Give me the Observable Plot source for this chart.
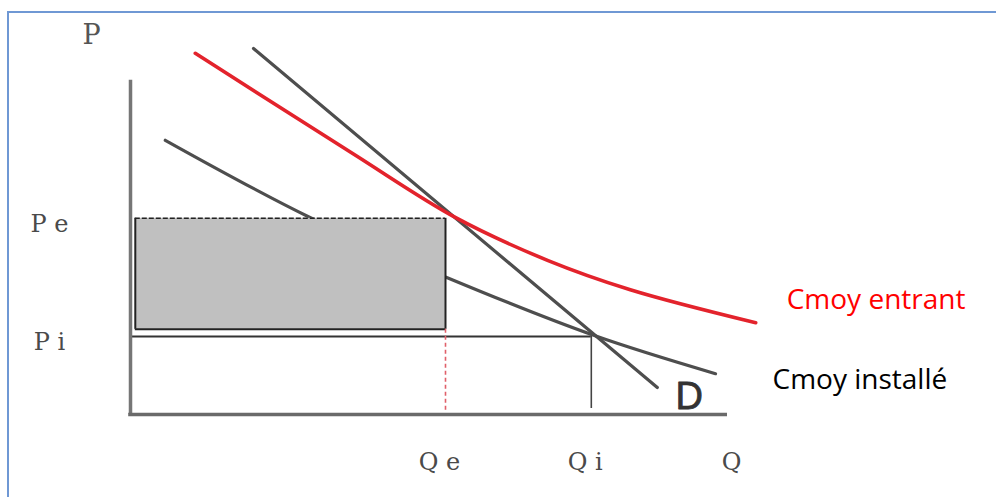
<!DOCTYPE html>
<html>
<head>
<meta charset="utf-8">
<script src="https://cdn.jsdelivr.net/npm/d3@7"></script>
<script src="https://cdn.jsdelivr.net/npm/@observablehq/plot@0.6"></script>
<style>
  html, body { margin: 0; padding: 0; background: #fff; }
  #wrap { position: relative; width: 996px; height: 497px; overflow: hidden; }
  #border { position: absolute; left: 7px; top: 11px; width: 1000px; height: 600px;
            border-top: 2px solid #6f98d4; border-left: 2px solid #6f98d4; box-sizing: border-box; }
  #chart { position: absolute; left: 0; top: 0; }
</style>
</head>
<body>
<div id="wrap"><div id="border"></div><div id="chart"></div></div>
<script>
// Key quantities / prices (abstract units)
const Qe = 52.5, Pe = 32.7;
const Qi = 76.8, Pi = 13.0;
const rectLeft = 0.8, rectBottom = 14.2;
const axisQmax = 99.5, axisPmax = 55.7;

// Cmoy entrant (red curve)
const entrantQ = [10.8, 36.7, 54.2, 69.5, 83.3, 104.2];
const entrantP = [60.2, 43.7, 32.8, 25.7, 20.8, 15.3];

// Demand D (straight line)
const demandQ = [20.5, 87.8];
const demandP = [61.0, 4.5];

// Cmoy installé (grey curve)
const installeQ = [5.8, 30.0, 52.8, 77.2, 97.5];
const installeP = [45.7, 32.8, 22.8, 13.2, 6.8];

// Axis labels
const pLabels = ["P e", "P i"];
const pValues = [Pe, Pi];
const qLabels = ["Q e", "Q i", "Q"];
const qValues = [Qe, Qi, 101.2];

const entrant = entrantQ.map((q, i) => ({q, p: entrantP[i]}));
const demand = demandQ.map((q, i) => ({q, p: demandP[i]}));
const installe = installeQ.map((q, i) => ({q, p: installeP[i]}));
const pLab = pLabels.map((t, i) => ({t, p: pValues[i]}));
const qLab = qLabels.map((t, i) => ({t, q: qValues[i]}));

const serif = "'DejaVu Serif', 'Liberation Serif', serif";
const sans = "'Open Sans', 'Liberation Sans', sans-serif";

const chart = Plot.plot({
  width: 996,
  height: 497,
  marginLeft: 130,
  marginRight: 266,
  marginTop: 54,
  marginBottom: 83,
  x: {domain: [0, 100], axis: null},
  y: {domain: [0, 60], axis: null},
  style: {background: "transparent", overflow: "visible"},
  marks: [
    // curves
    Plot.line(installe, {x: "q", y: "p", curve: "catmull-rom", stroke: "#4e4e4e", strokeWidth: 3.2}),
    Plot.line(demand, {x: "q", y: "p", stroke: "#4e4e4e", strokeWidth: 3.2}),
    Plot.line(entrant, {x: "q", y: "p", curve: "catmull-rom", stroke: "#e3232c", strokeWidth: 3.6}),
    // shaded profit rectangle (covers the curve)
    Plot.rect([{x1: rectLeft, x2: Qe, y1: rectBottom, y2: Pe}],
      {x1: "x1", x2: "x2", y1: "y1", y2: "y2", fill: "#c0c0c0", stroke: "none"}),
    // rectangle edges
    Plot.ruleX([rectLeft, Qe], {y1: rectBottom, y2: Pe, stroke: "#222", strokeWidth: 2}),
    Plot.ruleY([rectBottom], {x1: rectLeft, x2: Qe, stroke: "#222", strokeWidth: 2}),
    Plot.ruleY([Pe], {x1: rectLeft, x2: Qe, stroke: "#222", strokeWidth: 1.6, strokeDasharray: "5,2"}),
    // Pi horizontal and Qi vertical
    Plot.ruleY([Pi], {x1: 0, x2: Qi, stroke: "#333", strokeWidth: 1.8}),
    Plot.ruleX([Qi], {y1: 1, y2: Pi, stroke: "#444", strokeWidth: 1.6}),
    // Qe red dashed
    Plot.ruleX([Qe], {y1: 0.7, y2: rectBottom, stroke: "#e0606a", strokeWidth: 1.6, strokeDasharray: "4,3"}),
    // axes
    Plot.ruleX([0], {y1: 0, y2: axisPmax, stroke: "#767676", strokeWidth: 3.5}),
    Plot.ruleY([0], {x1: -0.3, x2: axisQmax, stroke: "#6a6a6a", strokeWidth: 3.5}),
    // labels
    Plot.text(["P"], {x: 0, y: axisPmax, text: d => d, dx: -39, dy: -45, fontSize: 27, fontFamily: serif, fill: "#555"}),
    Plot.text(pLab, {x: 0, y: "p", text: "t", dx: -81, dy: 6, fontSize: 24, fontFamily: serif, fill: "#4a4a4a"}),
    Plot.text(qLab, {x: "q", y: 0, text: "t", dx: -6, dy: 48, fontSize: 24, fontFamily: serif, fill: "#4a4a4a"}),
    Plot.text(["D"], {x: demandQ[1], y: 0, text: d => d, dx: 32, dy: -6, lineAnchor: "bottom", fontSize: 38, fontFamily: "'Liberation Sans', Arial, sans-serif", fill: "#333", stroke: "#333", strokeWidth: 0.8}),
    Plot.text(["Cmoy entrant"], {x: entrantQ[entrantQ.length - 1], y: entrantP[entrantP.length - 1], text: d => d, dx: 31, dy: -14, textAnchor: "start", lineAnchor: "bottom", fontSize: 28, fontFamily: sans, fill: "#ff0000"}),
    Plot.text(["Cmoy installé"], {x: installeQ[installeQ.length - 1], y: 0, text: d => d, dx: 57, dy: -26, textAnchor: "start", lineAnchor: "bottom", fontSize: 28, fontFamily: sans, fill: "#000"})
  ]
});
document.getElementById("chart").appendChild(chart);
</script>
</body>
</html>
